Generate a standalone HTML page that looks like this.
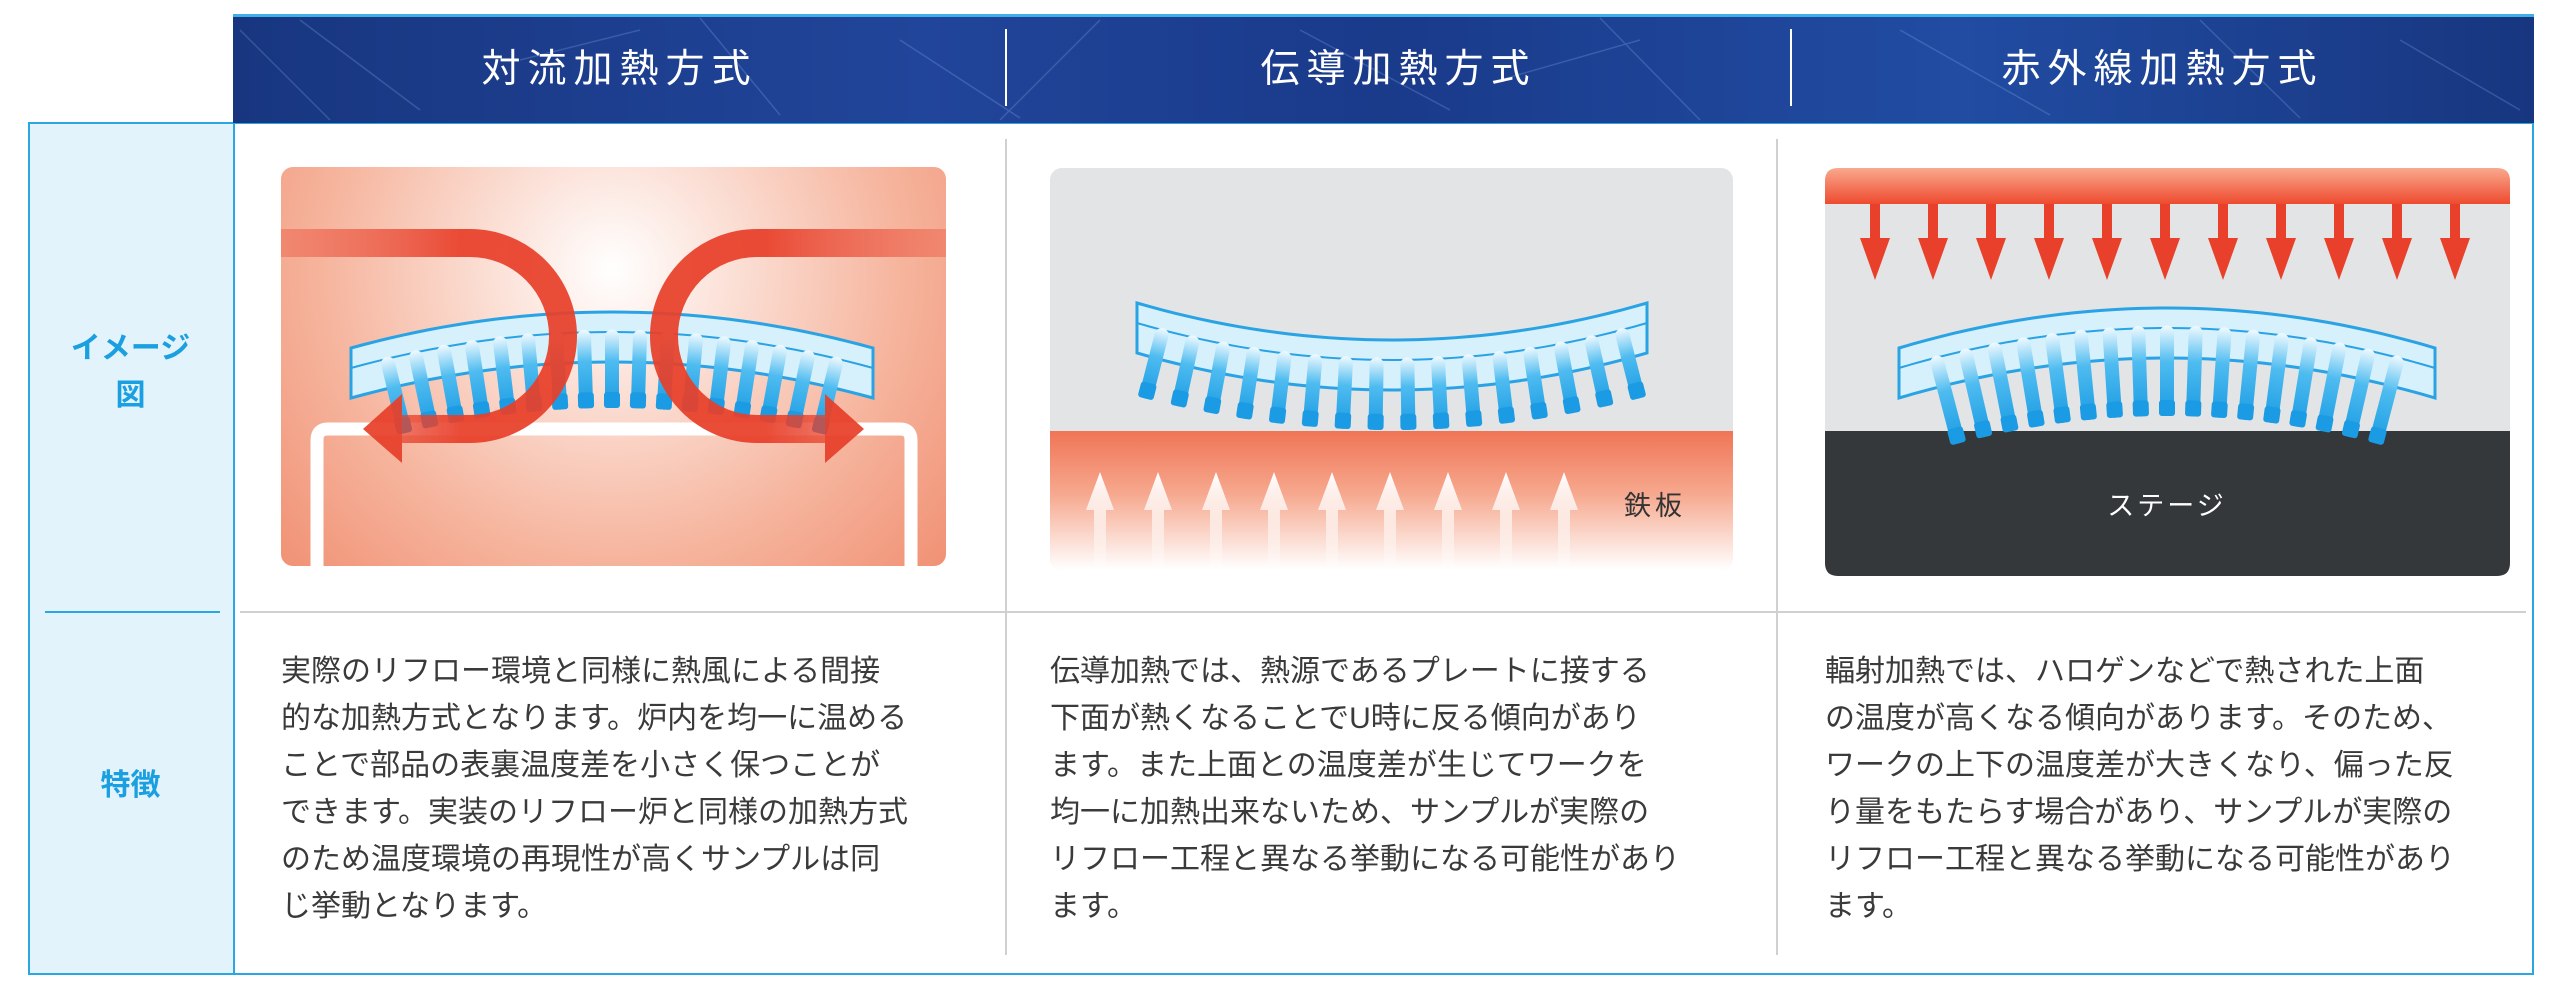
<!DOCTYPE html>
<html><head><meta charset="utf-8">
<style>
html,body{margin:0;padding:0;background:#fff;}
body{width:2560px;height:983px;position:relative;overflow:hidden;font-family:"Liberation Sans","Noto Sans CJK JP",sans-serif;}
.abs{position:absolute;}
.hdr{color:#fff;font-size:39px;letter-spacing:7px;text-align:center;top:44px;line-height:52px;}
.txt{color:#3a3a3a;font-size:30px;line-height:47px;white-space:nowrap;top:648px;}
.lbl{color:#1a9fe0;font-weight:bold;font-size:30px;text-align:center;left:28px;width:205px;}
</style></head><body>
<div class="abs" style="left:28px;top:122px;width:203px;height:849px;background:#e3f3fc;border:2px solid #2aa6e2;"></div>
<div class="abs" style="left:45px;top:611px;width:175px;height:2px;background:#2aa6e2;"></div>
<div class="abs" style="left:233px;top:122px;width:2299px;height:849px;border:2px solid #2aa6e2;border-left:none;"></div>
<div class="abs" style="left:233px;top:14px;width:2301px;height:109px;background:linear-gradient(90deg,#183680 0%,#21459a 30%,#1a3a8a 50%,#214ca2 75%,#183680 100%);border-top:3px solid #3fb0e6;box-sizing:border-box;"></div>
<svg class="abs" style="left:0;top:0" width="2560" height="983" id="s">
<defs>
<radialGradient id="cv" cx="612" cy="270" r="520" gradientUnits="userSpaceOnUse"><stop offset="0" stop-color="#fff"/><stop offset="0.55" stop-color="#f6b59e"/><stop offset="1" stop-color="#ee8060"/></radialGradient>
<linearGradient id="lf" x1="281" x2="460" y1="0" y2="0" gradientUnits="userSpaceOnUse"><stop offset="0" stop-color="#e8402a" stop-opacity="0.35"/><stop offset="1" stop-color="#e8402a"/></linearGradient>
<linearGradient id="pl" x1="0" x2="0" y1="431" y2="570" gradientUnits="userSpaceOnUse"><stop offset="0" stop-color="#f07556"/><stop offset="0.45" stop-color="#f6a88e"/><stop offset="1" stop-color="#fff"/></linearGradient>
<linearGradient id="ua" x1="0" x2="0" y1="472" y2="570" gradientUnits="userSpaceOnUse"><stop offset="0" stop-color="#fff"/><stop offset="1" stop-color="#fff" stop-opacity="0.2"/></linearGradient>
<linearGradient id="rb" x1="0" x2="0" y1="168" y2="204" gradientUnits="userSpaceOnUse"><stop offset="0" stop-color="#f9a98e"/><stop offset="1" stop-color="#ee4a2e"/></linearGradient>
<linearGradient id="tg" x1="0" x2="0" y1="0" y2="1"><stop offset="0" stop-color="#f0faff"/><stop offset="0.4" stop-color="#4fbcf0"/><stop offset="1" stop-color="#1a9be3"/></linearGradient>
<clipPath id="c1"><rect x="281" y="167" width="665" height="399" rx="12"/></clipPath>
<clipPath id="c2"><rect x="1050" y="168" width="683" height="402" rx="12"/></clipPath>
</defs>
<g stroke="#8fb8ef" stroke-opacity="0.25" stroke-width="1.5" fill="none">
<path d="M240,30 L330,120 M300,20 L420,110 M700,18 L780,115 M900,40 L1020,118 M1100,20 L1000,120 M1300,30 L1450,110 M1600,18 L1700,120 M1900,30 L2050,115 M2200,20 L2300,118 M2400,40 L2520,110 M520,60 L640,30 M1500,80 L1640,40"/>
</g>
<line x1="1006" y1="29" x2="1006" y2="106" stroke="#fff" stroke-width="2"/>
<line x1="1791" y1="29" x2="1791" y2="106" stroke="#fff" stroke-width="2"/>
<line x1="1006" y1="139" x2="1006" y2="955" stroke="#d0d0d0" stroke-width="2"/>
<line x1="1777" y1="139" x2="1777" y2="955" stroke="#d0d0d0" stroke-width="2"/>
<line x1="240" y1="612" x2="2526" y2="612" stroke="#d0d0d0" stroke-width="2"/>
<g clip-path="url(#c1)">
<rect x="281" y="167" width="665" height="399" fill="url(#cv)"/>
<path d="M317,566 V440 Q317,429 328,429 H900 Q911,429 911,440 V566" fill="none" stroke="#fff" stroke-width="13"/>
</g>
<g id="w1"></g>
<g opacity="0.93">
<path d="M281,243 H470 A93,93 0 0 1 470,429 H398" fill="none" stroke="url(#lf)" stroke-width="28"/>
<polygon points="363,429 402,394 402,463" fill="#e8402a"/>
<g transform="translate(1227,0) scale(-1,1)">
<path d="M281,243 H470 A93,93 0 0 1 470,429 H398" fill="none" stroke="url(#lf)" stroke-width="28"/>
<polygon points="363,429 402,394 402,463" fill="#e8402a"/>
</g>
</g>
<g clip-path="url(#c2)">
<rect x="1050" y="168" width="683" height="402" fill="#e3e4e5"/>
<rect x="1050" y="431" width="683" height="140" fill="url(#pl)"/>
</g>
<g id="ups"></g>
<text x="1655" y="515" font-size="27" fill="#333" text-anchor="middle" font-family="Liberation Sans,Noto Sans CJK JP,sans-serif" letter-spacing="4">鉄板</text>
<g id="w2"></g>
<rect x="1825" y="168" width="685" height="408" rx="13" fill="#e3e4e5"/>
<path d="M1825,431 H2510 V563 Q2510,576 2497,576 H1838 Q1825,576 1825,563 Z" fill="#35383b"/>
<path d="M1825,204 V181 Q1825,168 1838,168 H2497 Q2510,168 2510,181 V204 Z" fill="url(#rb)"/>
<g id="downs"></g>
<text x="2167" y="515" font-size="27" fill="#fff" text-anchor="middle" font-family="Liberation Sans,Noto Sans CJK JP,sans-serif" letter-spacing="3">ステージ</text>
<g id="w3"></g>
</svg>
<div class="abs hdr" style="left:233px;width:773px;">対流加熱方式</div>
<div class="abs hdr" style="left:1006px;width:785px;">伝導加熱方式</div>
<div class="abs hdr" style="left:1791px;width:743px;">赤外線加熱方式</div>
<div class="abs lbl" style="top:325px;line-height:47px;">イメージ<br>図</div>
<div class="abs lbl" style="top:762px;line-height:47px;">特徴</div>
<div class="abs txt" style="left:281px;">実際のリフロー環境と同様に熱風による間接<br>的な加熱方式となります。炉内を均一に温める<br>ことで部品の表裏温度差を小さく保つことが<br>できます。実装のリフロー炉と同様の加熱方式<br>のため温度環境の再現性が高くサンプルは同<br>じ挙動となります。</div>
<div class="abs txt" style="left:1050px;">伝導加熱では、熱源であるプレートに接する<br>下面が熱くなることでU時に反る傾向があり<br>ます。また上面との温度差が生じてワークを<br>均一に加熱出来ないため、サンプルが実際の<br>リフロー工程と異なる挙動になる可能性があり<br>ます。</div>
<div class="abs txt" style="left:1825px;">輻射加熱では、ハロゲンなどで熱された上面<br>の温度が高くなる傾向があります。そのため、<br>ワークの上下の温度差が大きくなり、偏った反<br>り量をもたらす場合があり、サンプルが実際の<br>リフロー工程と異なる挙動になる可能性があり<br>ます。</div>
<script>
var NS="http://www.w3.org/2000/svg";
function el(p,t,a){var e=document.createElementNS(NS,t);for(var k in a)e.setAttribute(k,a[k]);p.appendChild(e);return e;}
function wp(id,cx,hw,yc,dy,total,n){
 var g=document.getElementById(id),band=50;
 function y(x){var d=(x-cx)/hw;return yc+dy*d*d;}
 var top=[],bot=[],mid=[];
 for(var i=0;i<=40;i++){var x=cx-hw+2*hw*i/40;top.push(x+","+y(x));mid.push(x+","+(y(x)+band*0.4));bot.push(x+","+(y(x)+band));}
 el(g,"polygon",{points:top.concat(bot.reverse()).join(" "),fill:"#d6f0fc",stroke:"#2aa3e4","stroke-width":3});
 el(g,"polyline",{points:mid.join(" "),fill:"none",stroke:"#2aa3e4","stroke-width":2});
 var m=hw*0.12,step=(2*hw-2*m)/(n-1);
 for(var i=0;i<n;i++){var x=cx-hw+m+i*step,yy=y(x);var sl=2*dy*(x-cx)/(hw*hw);var ang=Math.atan(sl)*180/Math.PI;
  var t=el(g,"g",{transform:"translate("+x+","+yy+") rotate("+ang+")"});
  el(t,"rect",{x:-7,y:band*0.35,width:14,height:total-band*0.35,rx:7,fill:"url(#tg)"});
  el(t,"rect",{x:-8,y:total-16,width:16,height:16,rx:3,fill:"#1a9be3"});
 }
}
wp("w1",612,261,312,36,96,17);
wp("w2",1392,255,340,-37,90,16);
wp("w3",2167,268,308,40,108,17);
var u=document.getElementById("ups");
for(var i=0;i<9;i++){var x=1100+i*58;
 el(u,"path",{d:"M"+x+",472 L"+(x+14)+",510 L"+(x+6)+",510 L"+(x+6)+",570 L"+(x-6)+",570 L"+(x-6)+",510 L"+(x-14)+",510 Z",fill:"url(#ua)"});}
var d=document.getElementById("downs");
for(var i=0;i<11;i++){var x=1875+i*58;
 el(d,"path",{d:"M"+(x-5)+",204 L"+(x+5)+",204 L"+(x+5)+",238 L"+(x+15)+",238 L"+x+",280 L"+(x-15)+",238 L"+(x-5)+",238 Z",fill:"#e8402a"});}
</script>
</body></html>
